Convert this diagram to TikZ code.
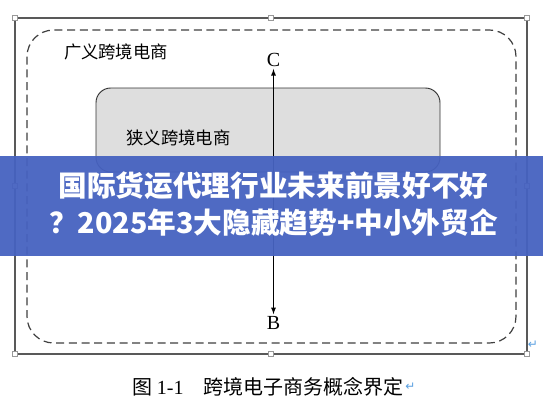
\documentclass[tikz,border=0pt]{standalone}
\usepackage{fontspec}
\usepackage{tikz}
\usetikzlibrary{arrows,positioning}
\setmainfont{Liberation Serif}
\newfontfamily\cjk{Noto Sans CJK SC}
\newfontfamily\symb{DejaVu Sans}
\definecolor{bannerblue}{RGB}{70,98,192}
\definecolor{retblue}{RGB}{90,160,225}
\begin{document}
\begin{tikzpicture}[x=0.75pt,y=-0.75pt]
			\tikzstyle{Frame}	= [draw=black!65, line width=1.1pt]
			\tikzstyle{Handle}	= [rectangle, draw=black!40, fill=white, minimum size=4pt, inner sep=0pt, line width=0.4pt]
			\tikzstyle{Broad}	= [draw=black!75, line width=0.9pt, dash pattern=on 6pt off 3.5pt, rounded corners=20pt]
			\tikzstyle{Narrow}	= [draw=black!80, fill=black!13, line width=0.7pt, rounded corners=11pt]
			\tikzstyle{Label}	= [font=\cjk\fontsize{13}{15}\selectfont, inner sep=0pt]
			\tikzstyle{End}		= [font=\fontsize{15}{17}\selectfont, inner sep=1.5pt]
			\tikzstyle{Ret}		= [font=\symb\fontsize{9}{10}\selectfont, text=retblue, inner sep=0pt]
			\tikzstyle{Banner}	= [font=\cjk\bfseries\fontsize{21.5}{26}\selectfont, text=white, inner sep=0pt]

			\useasboundingbox (0,0) rectangle (543,408);
			\fill[white] (0,0) rectangle (543,408);

			% outer frame with its handles
			\draw[Frame] (15,18) rectangle (527,354);
			\foreach \hx/\hy in {15/18, 271/18, 527/18, 15/186, 527/186, 15/354, 271/354, 527/354}
				\node[Handle] at (\hx,\hy) {};

			% the two regions
			\draw[Broad] (27,30) rectangle (516,343);
			\draw[Narrow] (96,88) rectangle (440,172);

			\node (broad) at (116,52) [Label] {广义跨境电商};
			\node (narrow) at (178.5,138) [Label] {狭义跨境电商};

			\node (c) at (273.5,60) [End] {C};
			\node (b) at (273.5,323) [End] {B};
			\draw [latex-latex, line width=0.7pt] (c) to (b);

			\node (ret1) at (533,345) [Ret] {↵};

			% caption
			\node (cap) at (268,387) [Label, font=\cjk\fontsize{15}{17}\selectfont] {图 {\rmfamily 1-1}\quad 跨境电子商务概念界定};
			\node (ret2) [right=1pt of cap, Ret] {↵};

			% banner
			\fill[bannerblue, opacity=0.95] (0,156) rectangle (543,256);
			\node (line1) at (273.5,186) [Banner] {国际货运代理行业未来前景好不好};
			\node (line2) at (273.5,223) [Banner] {？2025年3大隐藏趋势+中小外贸企};
		\end{tikzpicture}
\end{document}
